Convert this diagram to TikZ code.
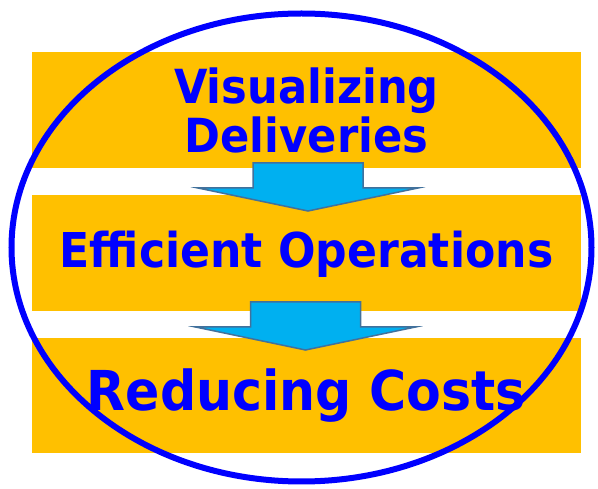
\documentclass[tikz,border=0pt]{standalone}
\usepackage{fontspec}
\setmainfont{DejaVu Sans}
\newfontfamily\boxfont[FakeStretch=0.92]{DejaVu Sans}
\usepackage{tikz}
\definecolor{boxgold}{HTML}{FFC000}
\definecolor{textblue}{HTML}{0000FF}
\definecolor{arrowcyan}{HTML}{00B0F0}
\definecolor{arrowedge}{HTML}{41719C}

\begin{document}
\begin{tikzpicture}[x=1pt,y=-1pt,
        box/.style={fill=boxgold,minimum width=549pt,inner sep=0pt,
                    text=textblue,align=center},
        blockarrow/.style={fill=arrowcyan,draw=arrowedge,line width=1.5pt,line join=miter}]
        \useasboundingbox (0,0) rectangle (598,489);

        % draw the three boxes
        \node[box,minimum height=116pt,font=\boxfont\bfseries\fontsize{47}{49}\selectfont] (vis) at (306.5,110)
            {Visualizing\\Deliveries};
        \node[box,minimum height=116pt,text depth=7pt,font=\boxfont\bfseries\fontsize{48}{50}\selectfont] (eff) at (306.5,253)
            {Efficient Operations};
        \node[box,minimum height=115pt,font=\boxfont\bfseries\fontsize{55}{60}\selectfont] (red) at (306.5,395.5)
            {Reducing Costs};

        % draw the block arrows between the boxes
        \foreach \x/\y in {308/163, 305.5/302} {
                \draw[blockarrow] (\x-55,\y) -- (\x+55,\y) -- (\x+55,\y+25) -- (\x+110,\y+25)
                    -- (\x,\y+48) -- (\x-110,\y+25) -- (\x-55,\y+25) -- cycle;
        }

        % draw the ellipse round everything
        \draw[textblue,line width=6pt] (301.5,247.5) ellipse (290 and 234);
\end{tikzpicture}
\end{document}
